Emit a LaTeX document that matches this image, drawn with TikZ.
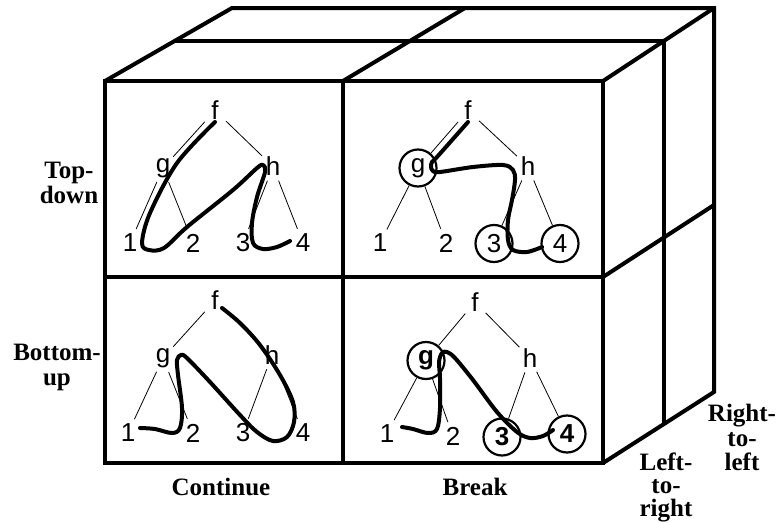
\documentclass[tikz,border=0pt]{standalone}
\usepackage{fontspec}
\setmainfont{Liberation Serif}
\newfontfamily\treefont{Liberation Sans}
\newcommand\treesize{\fontsize{26}{26}\selectfont}
\begin{document}
\begin{tikzpicture}[x=1pt,y=-1pt,
  box/.style={line width=4pt,line join=miter},
  lbl/.style={circle,inner sep=0pt,minimum size=30pt,font=\treefont\treesize},
  circ/.style={lbl,draw,line width=2.2pt,minimum size=37pt},
  bold/.style={font=\treefont\bfseries\treesize},
  edge/.style={line width=0.8pt},
  trail/.style={line width=4pt,line cap=round,line join=round},
  axis/.style={font=\bfseries\fontsize{25}{24.5}\selectfont,align=center,inner sep=0pt},
  axistight/.style={axis,font=\bfseries\fontsize{25}{23}\selectfont}]
\useasboundingbox (0,0) rectangle (781,522);

% ---- the box: front face ----
\draw[box] (105,81) rectangle (603,463);
\draw[box] (343,81) -- (343,463);
\draw[box] (105,277) -- (603,277);
% ---- top and right faces ----
\draw[box] (105,81) -- (232,8) -- (714,8) -- (714,392) -- (603,463);
\draw[box] (603,81) -- (714,8);
\draw[box] (343,81) -- (465,8);
\draw[box] (175,41) -- (664,41) -- (664,423);
\draw[box] (603,277) -- (714,205);

% ---- trees ----
% top-down / continue
\node[lbl] (af) at (215,110.5) {f};
\node[lbl] (ag) at (163,168) {g};
\node[lbl] (ah) at (273,166.5) {h};
\node[lbl] (a1) at (130,243) {1};
\node[lbl] (a2) at (193,243) {2};
\node[lbl] (a3) at (243,243) {3};
\node[lbl] (a4) at (303,243) {4};
% top-down / break
\node[lbl] (bf) at (468,110.5) {f};
\node[circ] (bg) at (418,168) {g};
\node[lbl] (bh) at (528,166.5) {h};
\node[lbl] (b1) at (380,243) {1};
\node[lbl] (b2) at (446,243) {2};
\node[circ] (b3) at (494,243.5) {3};
\node[circ] (b4) at (560,243.5) {4};
% bottom-up / continue
\node[lbl] (cf) at (215,300.5) {f};
\node[lbl] (cg) at (163,358) {g};
\node[lbl] (ch) at (272,355) {h};
\node[lbl] (c1) at (128,433) {1};
\node[lbl] (c2) at (193,433) {2};
\node[lbl] (c3) at (243,433) {3};
\node[lbl] (c4) at (303,433) {4};
% bottom-up / break
\node[lbl] (df) at (475,302) {f};
\node[circ,bold] (dg) at (426,360.5) {g};
\node[lbl] (dh) at (530,358) {h};
\node[lbl] (d1) at (387,433.5) {1};
\node[lbl] (d2) at (453,436.5) {2};
\node[circ,bold] (d3) at (502,437) {3};
\node[circ,bold] (d4) at (567,434) {4};

\foreach \p in {a,b,c,d}{
  \draw[edge] (\p f) -- (\p g);
  \draw[edge] (\p f) -- (\p h);
  \draw[edge] (\p g) -- (\p 1);
  \draw[edge] (\p g) -- (\p 2);
  \draw[edge] (\p h) -- (\p 3);
  \draw[edge] (\p h) -- (\p 4);
}

% ---- traversal paths ----
\draw[trail] plot[smooth,tension=0.55] coordinates {
  (215,122) (177,163) (150,213) (142,243) (149,250) (164,248) (187,227)
  (233,190) (257,168) (263,165) (265,172) (257,197) (252,223) (253,243)
  (263,249) (277,247) (290,241)};
\draw[trail] plot[smooth,tension=0.55] coordinates {
  (468,122) (437,157) (432,162) (431,167) (433,171) (440,172) (473,167)
  (503,165) (513,170) (515,180) (512,200) (508,220) (508,240) (513,250)
  (527,252) (542,247)};
\draw[trail] plot[smooth,tension=0.55] coordinates {
  (140,428) (155,429) (172,433) (180,428) (182,408) (178,375) (177,360)
  (181,355) (187,358) (210,382) (240,415) (257,432) (273,441) (287,437)
  (294,422) (293,402) (280,375) (260,345) (240,323) (222,308)};
\draw[trail] plot[smooth,tension=0.55] coordinates {
  (402,427) (413,429) (428,433) (437,429) (440,408) (440,378) (439,362)
  (442,353) (447,352) (455,358) (473,380) (497,412) (517,432) (530,438)
  (543,436) (553,430)};

% ---- axis labels ----
\node[axis,anchor=north] (td) at (69,162) {Top-\\down};
\node[axis,anchor=north] (bu) at (57,344) {Bottom-\\up};
\node[axis,anchor=base] (co) at (221,495) {Continue};
\node[axis,anchor=base] (br) at (475,495) {Break};
\node[axistight,anchor=north] (lr) at (666,453) {Left-\\to-\\right};
\node[axis,anchor=north] (rl) at (742,404) {Right-\\to-\\left};
\end{tikzpicture}
\end{document}
